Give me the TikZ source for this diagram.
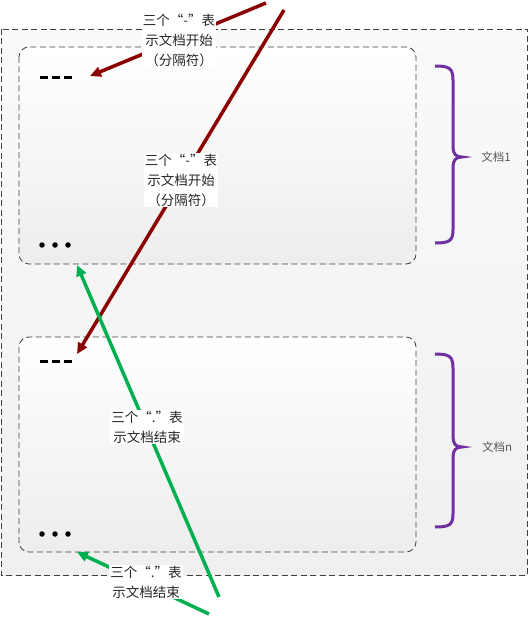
\documentclass[tikz,border=0pt]{standalone}
\usepackage{fontspec}
\newfontfamily\cjk{Noto Sans CJK SC}
\usetikzlibrary{arrows.meta}
\definecolor{dred}{HTML}{8B0000}
\definecolor{dgreen}{HTML}{00B050}
\definecolor{dpurple}{HTML}{7030A0}
\tikzset{
  docbox/.style={draw=black!75, dash pattern=on 6pt off 3.5pt, line width=0.8pt, rounded corners=10pt, top color=white, bottom color=black!7},
  outerbox/.style={draw=black!75, dash pattern=on 6pt off 3.5pt, line width=0.8pt, top color=black!2, bottom color=black!6},
  callout/.style={fill=white, inner sep=1pt, align=center, font=\cjk\fontsize{13.5}{20}\selectfont, text=black!85},
  doclabel/.style={font=\cjk\fontsize{11.5}{13}\selectfont, text=black!65},
  redarrow/.style={draw=dred, line width=3.5pt, -{Triangle[length=11pt,width=10pt]}},
  greenarrow/.style={draw=dgreen, line width=3.5pt, -{Triangle[length=11pt,width=10pt]}},
  brace/.style={draw=dpurple, line width=3pt},
  sep/.style={line width=3pt, dash pattern=on 8pt off 4pt},
  dot/.style={circle, fill=black, inner sep=0pt, minimum size=5.5pt}
}
\begin{document}
\begin{tikzpicture}[x=1pt, y=-1pt]
\useasboundingbox (0,0) rectangle (528,623);
\fill[white] (0,0) rectangle (528,623);
% outer container
\path[outerbox] (1,29) rectangle (527.5,575);
% document boxes
\path[docbox] (19,47) rectangle (416,264);
\path[docbox] (19,337) rectangle (416,552);
% separators
\draw[sep] (40,78) -- (74,78);
\draw[sep] (40,361) -- (74,361);
\coordinate (s1) at (90,76);
\coordinate (s2) at (77,354);
% end dots
\node[dot] (d1a) at (42,245) {};
\node[dot] (d1b) at (55,245) {};
\node[dot] (d1c) at (68,245) {};
\node[dot] (d2a) at (42,534) {};
\node[dot] (d2b) at (55,534) {};
\node[dot] (d2c) at (68,534) {};
\coordinate (e1) at (77,265);
\coordinate (e2) at (77,552);
% braces
\draw[brace] (435,66) .. controls (449,66) and (453,68) .. (453,80) -- (453,147)
  .. controls (453,154) and (456,157) .. (462,157)
  .. controls (456,157) and (453,160) .. (453,167) -- (453,230)
  .. controls (453,241) and (449,243) .. (435,243);
\draw[brace] (435,354) .. controls (449,354) and (453,356) .. (453,368) -- (453,437)
  .. controls (453,444) and (456,447) .. (462,447)
  .. controls (456,447) and (453,450) .. (453,457) -- (453,514)
  .. controls (453,525) and (449,527) .. (435,527);
\node[doclabel] (l1) at (496,157) {文档1};
\node[doclabel] (ln) at (497,447) {文档n};
% arrows
\coordinate (r1s) at (266,3);
\coordinate (r2s) at (284,10);
\coordinate (g1s) at (219,597);
\coordinate (g2s) at (209,614);
\draw[redarrow] (r1s) -- (s1);
\draw[redarrow] (r2s) -- (s2);
\draw[greenarrow] (g1s) -- (e1);
\draw[greenarrow] (g2s) -- (e2);
% callouts
\node[callout] (c1) at (179,40) {三个“-”表\\示文档开始\\（分隔符）};
\node[callout] (c2) at (181,180) {三个“-”表\\示文档开始\\（分隔符）};
\node[callout] (c3) at (147,427) {三个“.”表\\示文档结束};
\node[callout] (c4) at (146,582) {三个“.”表\\示文档结束};
\end{tikzpicture}
\end{document}
